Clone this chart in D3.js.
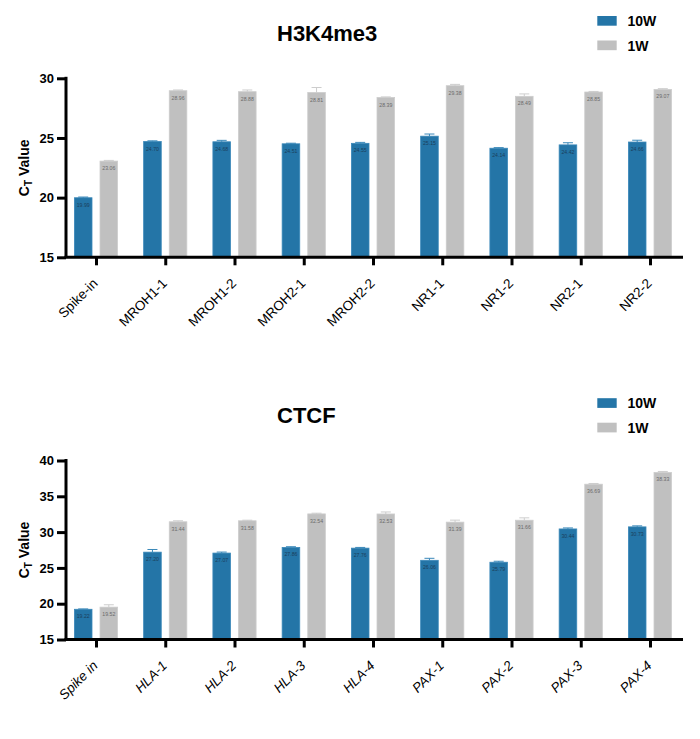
<!DOCTYPE html>
<html>
<head>
<meta charset="utf-8">
<script src="https://cdn.jsdelivr.net/npm/d3@7"></script>
<style>
  html, body { margin: 0; padding: 0; background: #fff; }
  svg { display: block; font-family: Arial, "Liberation Sans", sans-serif; }
</style>
</head>
<body>
<svg id="chart" width="700" height="739"></svg>
<script>
// ---------- data ----------
const seriesNames = ["10W", "1W"];

const h3Categories = ["Spike-in", "MROH1-1", "MROH1-2", "MROH2-1", "MROH2-2", "NR1-1", "NR1-2", "NR2-1", "NR2-2"];
const h3Values10W = [19.99, 24.70, 24.68, 24.51, 24.55, 25.15, 24.14, 24.42, 24.66];
const h3Values1W  = [23.06, 28.96, 28.88, 28.81, 28.39, 29.38, 28.49, 28.85, 29.07];
const h3Err10W    = [0.06, 0.06, 0.12, 0.05, 0.08, 0.18, 0.05, 0.18, 0.15];
const h3Err1W     = [0.06, 0.06, 0.14, 0.42, 0.05, 0.11, 0.20, 0.05, 0.06];
const h3Ticks     = [15, 20, 25, 30];

const ctcfCategories = ["Spike in", "HLA-1", "HLA-2", "HLA-3", "HLA-4", "PAX-1", "PAX-2", "PAX-3", "PAX-4"];
const ctcfValues10W = [19.22, 27.20, 27.07, 27.86, 27.76, 26.06, 25.79, 30.44, 30.73];
const ctcfValues1W  = [19.52, 31.44, 31.58, 32.54, 32.53, 31.39, 31.66, 36.69, 38.33];
const ctcfErr10W    = [0.05, 0.37, 0.14, 0.10, 0.10, 0.28, 0.14, 0.14, 0.14];
const ctcfErr1W     = [0.33, 0.14, 0.08, 0.10, 0.28, 0.28, 0.33, 0.10, 0.14];
const ctcfTicks     = [15, 20, 25, 30, 35, 40];

// ---------- style ----------
const colors = { "10W": "#2475a7", "1W": "#c0c0c0" };
const strokes = { "10W": "#3a88b9", "1W": "#cdcdcd" };
const labelColors = { "10W": "#1b3f5c", "1W": "#6a6a6a" };

const svg = d3.select("#chart");

function drawChart(opt) {
  const g = svg.append("g").attr("transform", `translate(0,${opt.offsetY})`);
  const left = 66, right = 683, top = 78.3, bottom = 257.3;

  const x = d3.scalePoint().domain(opt.categories).range([96, 650]);
  const y = d3.scaleLinear().domain([opt.ticks[0], opt.ticks[opt.ticks.length - 1]]).range([bottom, top]);
  const sub = d3.scalePoint().domain(seriesNames).range([-12.8, 12.8]);
  const barW = 17.6;

  const rows = [];
  opt.categories.forEach((c, i) => {
    rows.push({ cat: c, s: "10W", v: opt.v10[i], e: opt.e10[i] });
    rows.push({ cat: c, s: "1W", v: opt.v1[i], e: opt.e1[i] });
  });

  // error bars (upper only)
  const eb = g.append("g");
  rows.forEach(d => {
    const cx = x(d.cat) + sub(d.s);
    eb.append("line").attr("x1", cx).attr("x2", cx).attr("y1", y(d.v)).attr("y2", y(d.v + d.e))
      .attr("stroke", strokes[d.s]).attr("stroke-width", 1);
    eb.append("line").attr("x1", cx - 5).attr("x2", cx + 5).attr("y1", y(d.v + d.e)).attr("y2", y(d.v + d.e))
      .attr("stroke", strokes[d.s]).attr("stroke-width", 1);
  });

  // bars
  g.append("g").selectAll("rect").data(rows).join("rect")
    .attr("x", d => x(d.cat) + sub(d.s) - barW / 2)
    .attr("width", barW)
    .attr("y", d => y(d.v))
    .attr("height", d => y(opt.ticks[0]) - y(d.v))
    .attr("fill", d => colors[d.s])
    .attr("stroke", d => strokes[d.s])
    .attr("stroke-width", 0.8);

  // value labels
  g.append("g").selectAll("text").data(rows).join("text")
    .attr("x", d => x(d.cat) + sub(d.s))
    .attr("y", d => y(d.v) + 9)
    .attr("text-anchor", "middle")
    .attr("font-size", 5.2)
    .attr("fill", d => labelColors[d.s])
    .text(d => d.v.toFixed(2));

  // y axis
  const yAxis = g.append("g").attr("transform", `translate(${left},0)`)
    .call(d3.axisLeft(y).tickValues(opt.ticks).tickSize(9).tickSizeOuter(0).tickPadding(3));
  yAxis.select(".domain").attr("stroke", "#000").attr("stroke-width", 3)
    .attr("d", `M0,${top - 1.5}V${bottom}`);
  yAxis.selectAll(".tick line").attr("stroke", "#000").attr("stroke-width", 3);
  yAxis.selectAll(".tick text").attr("font-size", 13).attr("font-weight", "bold")
    .attr("fill", "#000").attr("font-family", "Arial, 'Liberation Sans', sans-serif");

  // x axis
  const xAxis = g.append("g").attr("transform", `translate(0,${bottom})`)
    .call(d3.axisBottom(x).tickSize(8).tickSizeOuter(0));
  xAxis.select(".domain").attr("stroke", "#000").attr("stroke-width", 3)
    .attr("d", `M${left - 1.5},0H${right}`);
  xAxis.selectAll(".tick line").attr("stroke", "#000").attr("stroke-width", 3);
  xAxis.selectAll(".tick text")
    .attr("font-size", 13.5)
    .attr("font-style", opt.italic ? "italic" : "normal")
    .attr("fill", "#000")
    .attr("font-family", "Arial, 'Liberation Sans', sans-serif")
    .attr("text-anchor", "end")
    .attr("y", 0).attr("dy", 0)
    .attr("transform", "translate(2,27) rotate(-45)");

  // y title
  const yt = g.append("text")
    .attr("transform", `translate(28.5,${(top + bottom) / 2}) rotate(-90)`)
    .attr("text-anchor", "middle")
    .attr("font-size", 14).attr("font-weight", "bold").attr("fill", "#000");
  yt.append("tspan").text("C");
  yt.append("tspan").attr("font-size", 10).attr("dy", 3).text("T");
  yt.append("tspan").attr("dy", -3).text(" Value");

  // title
  g.append("text").attr("x", 277).attr("y", 41)
    .attr("font-size", 22).attr("font-weight", "bold").attr("fill", "#000")
    .text(opt.title);

  // legend
  const lg = g.append("g");
  seriesNames.forEach((s, i) => {
    lg.append("rect").attr("x", 597.3).attr("y", 16 + i * 24.5).attr("width", 19.4).attr("height", 9.7)
      .attr("fill", colors[s]);
    lg.append("text").attr("x", 627.5).attr("y", 26 + i * 24.5)
      .attr("font-size", 14).attr("font-weight", "bold").attr("fill", "#000").text(s);
  });
}

drawChart({ title: "H3K4me3", categories: h3Categories, v10: h3Values10W, v1: h3Values1W,
  e10: h3Err10W, e1: h3Err1W, ticks: h3Ticks, offsetY: 0, italic: false });
drawChart({ title: "CTCF", categories: ctcfCategories, v10: ctcfValues10W, v1: ctcfValues1W,
  e10: ctcfErr10W, e1: ctcfErr1W, ticks: ctcfTicks, offsetY: 382.2, italic: true });
</script>
</body>
</html>
